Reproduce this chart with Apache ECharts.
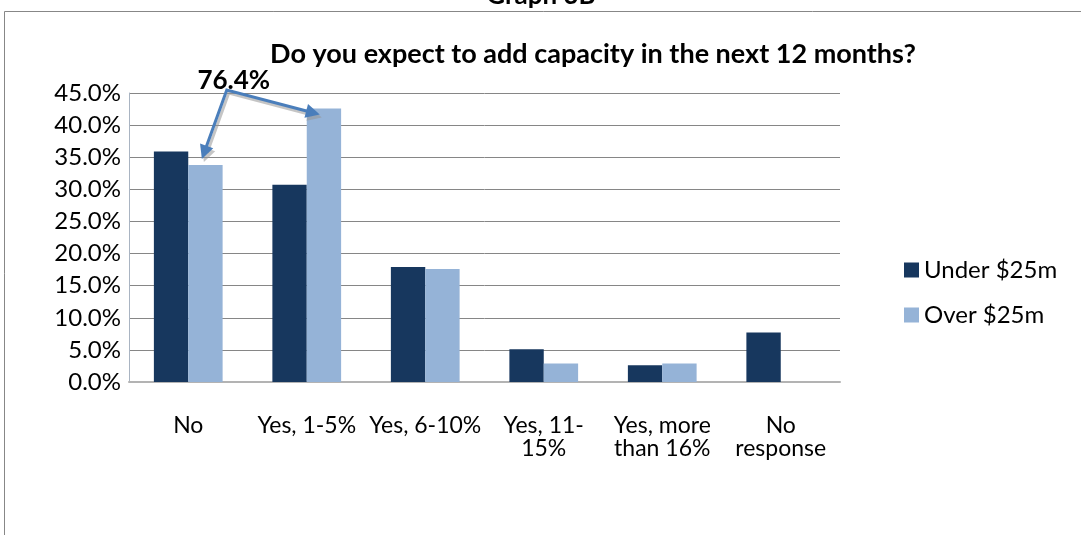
<!DOCTYPE html>
<html>
<head>
<meta charset="utf-8">
<style>
  html, body { margin: 0; padding: 0; background: #ffffff; }
  #chart { width: 1081px; height: 535px; }
</style>
<script src="https://cdn.jsdelivr.net/npm/echarts@6/dist/echarts.min.js"></script>
</head>
<body>
<div id="chart"></div>
<script>
// Survey responses, share of respondents by company size
const categories = ['No', 'Yes, 1-5%', 'Yes, 6-10%', 'Yes, 11-\n15%', 'Yes, more\nthan 16%', 'No\nresponse'];
const under25m = [35.9, 30.7, 17.9, 5.1, 2.6, 7.7];
const over25m = [33.8, 42.6, 17.6, 2.9, 2.9, 0];
const yTicks = [0, 5, 10, 15, 20, 25, 30, 35, 40, 45];

const FONT = 'Lato';
const ARROW = '#4a7ebb';
const SHADOW = 'rgba(150,150,150,0.55)';

const chart = echarts.init(document.getElementById('chart'), null, { renderer: 'canvas' });

// Arrow head triangle pointing at `tip`, coming from `from`
function arrowHead(from, tip, len, half) {
  const dx = tip[0] - from[0], dy = tip[1] - from[1];
  const d = Math.hypot(dx, dy) || 1;
  const ux = dx / d, uy = dy / d;
  const bx = tip[0] - ux * len, by = tip[1] - uy * len;
  return {
    base: [tip[0] - ux * len * 0.7, tip[1] - uy * len * 0.7],
    points: [tip, [bx - uy * half, by + ux * half], [bx + uy * half, by - ux * half]]
  };
}

// Callout: both "Over $25m" bars for "No" and "Yes, 1-5%" joined by arrows to their combined share
function renderCallout(params, api) {
  const catW = api.size([1, 0])[0];
  const c0 = api.coord([0, over25m[0]]);
  const c1 = api.coord([1, over25m[1]]);
  const top = api.coord([0, yTicks[yTicks.length - 1]]);
  const apex = [c0[0] + catW * 0.325, top[1] - 3];
  const tip1 = [c0[0] + catW * 0.115, c0[1] - 6];
  const tip2 = [c1[0] + catW * 0.11, c1[1] + 6];
  const h1 = arrowHead(apex, tip1, 14, 7);
  const h2 = arrowHead(apex, tip2, 14, 7);
  const total = (over25m[0] + over25m[1]).toFixed(1) + '%';
  const off = [2, 3];
  const shift = pts => pts.map(p => [p[0] + off[0], p[1] + off[1]]);
  const children = [];
  // soft shadow
  children.push({ type: 'polyline', shape: { points: shift([h1.base, apex, h2.base]) },
    style: { stroke: SHADOW, lineWidth: 3, fill: null } });
  children.push({ type: 'polygon', shape: { points: shift(h1.points) }, style: { fill: SHADOW } });
  children.push({ type: 'polygon', shape: { points: shift(h2.points) }, style: { fill: SHADOW } });
  // arrows
  children.push({ type: 'polyline', shape: { points: [h1.base, apex, h2.base] },
    style: { stroke: ARROW, lineWidth: 3, fill: null, lineJoin: 'miter' } });
  children.push({ type: 'polygon', shape: { points: h1.points }, style: { fill: ARROW } });
  children.push({ type: 'polygon', shape: { points: h2.points }, style: { fill: ARROW } });
  children.push({ type: 'text', style: { text: total, x: apex[0] + 7, y: apex[1] - 9,
    align: 'center', verticalAlign: 'middle', fill: '#000', font: 'bold 26px ' + FONT } });
  return { type: 'group', children: children };
}

const option = {
  backgroundColor: '#ffffff',
  animation: false,
  textStyle: { fontFamily: FONT },
  title: {
    text: 'Do you expect to add capacity in the next 12 months?',
    left: 588, top: 36, textAlign: 'center',
    textStyle: { fontFamily: FONT, fontWeight: 'bold', fontSize: 27, color: '#000' }
  },
  graphic: [
    { type: 'rect', silent: true, shape: { x: 4.5, y: 11.5, width: 1200, height: 1000 },
      style: { fill: null, stroke: '#878787', lineWidth: 1 } },
    { type: 'text', silent: true, style: { text: 'Graph 3B', x: 541, y: -4,
      align: 'center', verticalAlign: 'middle', fill: '#000', font: 'bold 26px ' + FONT } }
  ],
  legend: {
    orient: 'vertical', left: 899, top: 253,
    itemWidth: 15, itemHeight: 15, itemGap: 21,
    icon: 'rect',
    textStyle: { fontFamily: FONT, fontSize: 24, color: '#000' },
    data: ['Under $25m', 'Over $25m']
  },
  grid: { left: 129, right: 241, top: 93, bottom: 153 },
  xAxis: {
    type: 'category',
    data: categories,
    axisLine: { show: true, lineStyle: { color: '#b3b3b3', width: 2 } },
    axisTick: { show: false },
    axisLabel: { interval: 0, margin: 32, fontFamily: FONT, fontSize: 23, lineHeight: 23, color: '#000' }
  },
  yAxis: {
    type: 'value',
    min: 0, max: 45, interval: 5,
    axisLine: { show: true, lineStyle: { color: '#a9b4c2', width: 1 } },
    axisTick: { show: false },
    splitLine: { lineStyle: { color: '#868686', width: 1 } },
    axisLabel: { margin: 8, fontFamily: FONT, fontSize: 24, color: '#000',
      formatter: v => v.toFixed(1) + '%' }
  },
  series: [
    { name: 'Under $25m', type: 'bar', data: under25m, barGap: '0%', barCategoryGap: '42%',
      itemStyle: { color: '#17375e' } },
    { name: 'Over $25m', type: 'bar', data: over25m, barGap: '0%', barCategoryGap: '42%',
      itemStyle: { color: '#95b3d7' } },
    { name: 'callout', type: 'custom', data: [[0, over25m[0]]], renderItem: renderCallout,
      silent: true, z: 5, tooltip: { show: false } }
  ]
};

chart.setOption(option);
</script>
</body>
</html>
